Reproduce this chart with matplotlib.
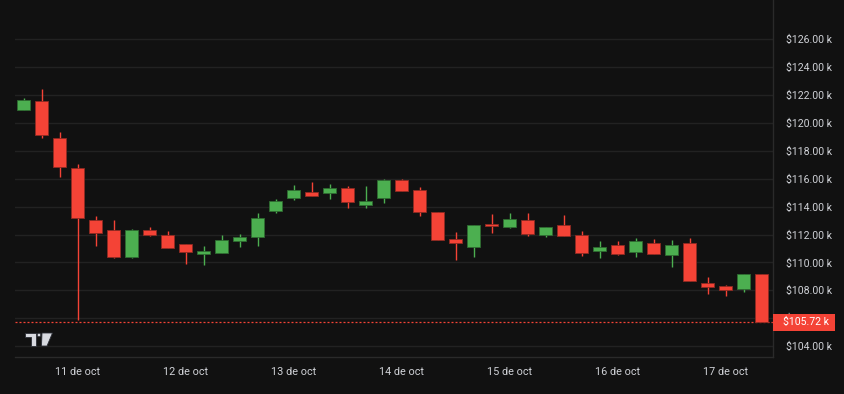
import matplotlib
matplotlib.use("Agg")
import matplotlib.pyplot as plt
import matplotlib.transforms as mtransforms
from matplotlib.patches import Polygon, Circle, Rectangle
import pandas as pd

# 4h candles, BTC/USD (thousands of dollars)
start = "2025-10-10 12:00"
opens = [120.92, 121.57, 118.92, 116.75, 113.02, 112.30, 110.39, 112.30, 111.96, 111.32,
         110.58, 110.70, 111.53, 111.80, 113.71, 114.64, 115.07, 114.95, 115.33, 114.11,
         114.64, 115.91, 115.19, 113.63, 111.66, 111.13, 112.75, 112.56, 113.06, 111.99,
         112.68, 111.96, 110.84, 111.25, 110.77, 111.39, 110.51, 111.39, 108.50, 108.31,
         108.07, 109.15]
highs = [121.76, 122.43, 119.33, 117.05, 113.33, 113.02, 112.39, 112.56, 112.25, 111.32,
         111.15, 111.96, 112.04, 113.52, 114.55, 115.53, 115.76, 115.62, 115.48, 115.48,
         115.95, 115.95, 115.41, 113.63, 112.18, 112.68, 113.47, 113.54, 113.54, 112.54,
         113.40, 112.25, 111.53, 111.53, 111.75, 111.68, 111.61, 111.75, 108.95, 108.38,
         109.15, 109.15]
lows = [120.92, 118.94, 116.14, 105.90, 111.20, 110.35, 110.32, 111.91, 111.00, 109.86,
        109.80, 110.68, 111.13, 111.20, 113.52, 114.47, 114.76, 114.54, 113.92, 113.92,
        114.28, 115.14, 113.35, 111.61, 110.19, 110.37, 112.13, 112.47, 111.91, 111.84,
        111.91, 110.44, 110.32, 110.55, 110.37, 110.62, 109.67, 108.64, 107.76, 107.59,
        107.86, 105.72]
closes = [121.64, 119.13, 116.86, 113.16, 112.13, 110.39, 112.30, 111.99, 111.03, 110.77,
          110.82, 111.58, 111.84, 113.20, 114.42, 115.19, 114.76, 115.33, 114.35, 114.42,
          115.91, 115.14, 113.63, 111.61, 111.41, 112.68, 112.63, 113.11, 112.06, 112.54,
          111.91, 110.70, 111.13, 110.62, 111.53, 110.62, 111.27, 108.64, 108.24, 108.00,
          109.15, 105.72]
price_ticks = [104, 106, 108, 110, 112, 114, 116, 118, 120, 122, 124, 126]
months_es = {10: "oct"}

BG = "#111111"
GRID = "#222222"
UP = "#4caf50"
DOWN = "#f44336"
TEXT = "#cfd1d6"

plt.rcParams["font.family"] = ["Roboto", "DejaVu Sans"]

times = pd.date_range(start, periods=len(opens), freq="4h")
idx = list(range(len(opens)))

fig = plt.figure(figsize=(8.45, 3.94), dpi=100, facecolor=BG)
ax = fig.add_axes([15 / 845, 37 / 394, 758 / 845, 357 / 394], facecolor=BG)

for i, o, h, l, c in zip(idx, opens, highs, lows, closes):
    col = UP if c >= o else DOWN
    edge = "#2e6b31" if c >= o else "#8f2a22"
    ax.vlines(i, l, h, color=col, lw=1.0, zorder=2)
    lo, hi = min(o, c), max(o, c)
    ax.bar(i, max(hi - lo, 0.08), bottom=lo, width=0.72, color=col,
           edgecolor=edge, linewidth=0.6, zorder=3)

ax.set_xlim(-0.48, 41.63)
ax.set_ylim(103.22, 128.81)

for p in price_ticks:
    ax.axhline(p, color=GRID, lw=1.0, zorder=0)

ax.yaxis.tick_right()
ax.set_yticks(price_ticks)
ax.set_yticklabels([f"${p:.2f} k" for p in price_ticks])
ax.tick_params(axis="y", length=0, pad=9.5, labelsize=7.6, labelcolor=TEXT)

day_idx = [i for i, t in zip(idx, times) if t.hour == 0]
ax.set_xticks(day_idx)
ax.set_xticklabels([f"{times[i].day} de {months_es[times[i].month]}" for i in day_idx])
ax.tick_params(axis="x", length=0, pad=7, labelsize=7.8, labelcolor=TEXT)

for side in ("left", "top"):
    ax.spines[side].set_visible(False)
for side in ("right", "bottom"):
    ax.spines[side].set_color("#2a2a2a")
    ax.spines[side].set_linewidth(1.0)

# last price line + label
last = closes[-1]
ax.axhline(last, color=DOWN, lw=0.9, ls=(0, (1.6, 1.6)), zorder=1)
blend = mtransforms.blended_transform_factory(ax.transAxes, ax.transData)
box_h = 17 / 13.95
ax.add_patch(Rectangle((1.0, last - box_h / 2), 62 / 758, box_h, transform=blend,
                       facecolor=DOWN, edgecolor="none", clip_on=False, zorder=5))
ax.text(1.0 + 10 / 758, last, f"${last:.2f} k", transform=blend, ha="left", va="center",
        color="white", fontsize=7.6, zorder=6, clip_on=False)

# TradingView logo (top-down pixel coordinates)
px = mtransforms.Affine2D().scale(1 / 845, -1 / 394).translate(0, 1) + fig.transFigure
logo = dict(facecolor="#d8dae0", edgecolor="#2a2d35", linewidth=0.6, transform=px)
fig.patches.append(Polygon([(25, 333), (36.5, 333), (36.5, 346), (31, 346),
                            (31, 337), (25, 337)], closed=True, **logo))
fig.patches.append(Circle((39, 335), 1.8, **logo))
fig.patches.append(Polygon([(42, 333), (52.5, 333), (47, 346), (41.5, 346)],
                           closed=True, **logo))

fig.savefig("out.png", dpi=100, facecolor=BG)
